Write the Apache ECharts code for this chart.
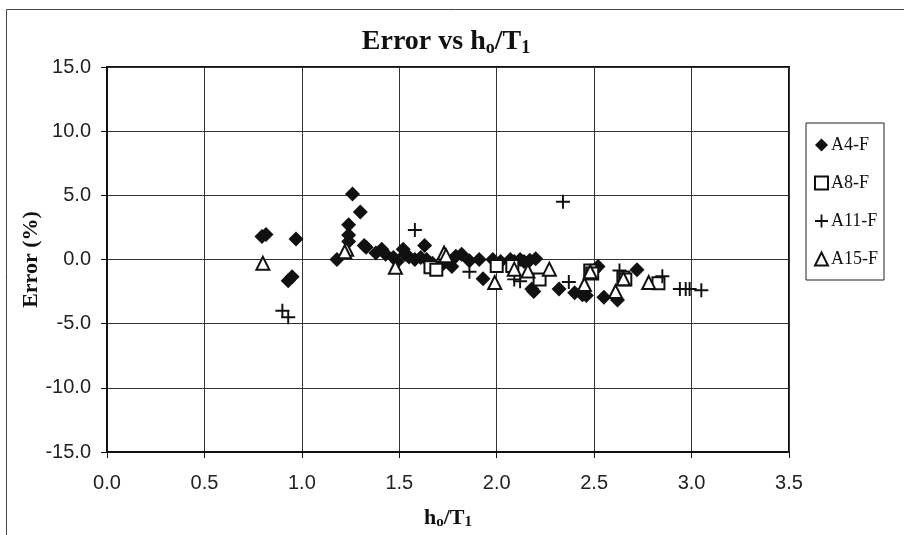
<!DOCTYPE html>
<html><head><meta charset="utf-8">
<script src="https://cdn.jsdelivr.net/npm/echarts@6/dist/echarts.min.js"></script>
<style>html,body{margin:0;padding:0;background:#fff}#c{width:904px;height:535px}</style>
</head><body><div id="c"></div>
<script>
const xTicks = [0.0, 0.5, 1.0, 1.5, 2.0, 2.5, 3.0, 3.5];
const yTicks = [-15, -10, -5, 0, 5, 10, 15];
const seriesNames = ['A4-F', 'A8-F', 'A11-F', 'A15-F'];
const a4 = [[0.795,1.8],[0.816,1.95],[0.97,1.6],[0.93,-1.65],[0.95,-1.35],[1.18,0.0],[1.26,5.1],[1.30,3.7],
  [1.24,2.7],[1.24,1.9],[1.24,1.4],[1.32,1.1],[1.33,0.95],[1.38,0.5],[1.41,0.8],[1.43,0.4],[1.47,0.15],
  [1.49,-0.15],[1.52,0.8],[1.53,0.4],[1.55,0.2],[1.58,0.0],[1.61,0.15],[1.63,1.1],[1.64,0.0],[1.67,-0.3],
  [1.72,-0.4],[1.77,-0.55],[1.79,0.25],[1.82,0.4],[1.86,-0.1],[1.91,0.0],[1.93,-1.5],[1.98,0.0],[2.02,-0.15],
  [2.07,0.0],[2.09,-0.15],[2.12,0.0],[2.14,-0.15],[2.17,-0.05],[2.20,0.05],[2.18,-2.3],[2.19,-2.5],
  [2.32,-2.3],[2.40,-2.6],[2.44,-2.75],[2.46,-2.8],[2.52,-0.55],[2.50,-0.85],[2.55,-2.95],[2.62,-3.15],[2.72,-0.8]];
const a8 = [[1.66,-0.6],[1.69,-0.8],[2.0,-0.5],[2.08,-0.5],[2.22,-1.55],[2.48,-0.85],[2.49,-1.1],
  [2.65,-1.4],[2.66,-1.55],[2.83,-1.85]];
const a11 = [[0.90,-4.0],[0.93,-4.5],[1.58,2.3],[1.86,-0.95],[2.09,-1.55],[2.12,-1.7],[2.34,4.5],
  [2.37,-1.75],[2.63,-0.85],[2.85,-1.3],[2.94,-2.3],[2.97,-2.3],[2.99,-2.3],[3.05,-2.4]];
const a15 = [[0.80,-0.3],[1.23,0.8],[1.22,0.6],[1.48,-0.6],[1.73,0.5],[1.74,0.3],[1.99,-1.8],[2.09,-0.75],
  [2.16,-0.9],[2.27,-0.75],[2.48,-0.95],[2.45,-1.95],[2.61,-2.5],[2.65,-1.5],[2.78,-1.8]];

const chart = echarts.init(document.getElementById('c'));
const serif = "'Liberation Serif','Times New Roman',serif";
const sans = "'Liberation Sans',Arial,sans-serif";
const plus = 'path://M4.3,0H5.7V4.3H10V5.7H5.7V10H4.3V5.7H0V4.3H4.3Z';
chart.setOption({
  animation: false,
  backgroundColor: '#fff',
  title: {
    text: 'Error vs h{s|o}/T{s|1}', left: 441, textAlign: 'center', top: 21,
    textStyle: { fontFamily: serif, fontWeight: 'bold', fontSize: 28, color: '#111',
      rich: { s: { fontFamily: serif, fontWeight: 'bold', fontSize: 18, padding: [13,0,0,0], color: '#111' } } }
  },
  graphic: [{ type: 'rect', shape: { x: 6.5, y: 9.5, width: 905, height: 540 }, style: { fill: 'none', stroke: '#444', lineWidth: 1 }, silent: true }],
  legend: {
    orient: 'vertical', left: 806, top: 123,
    padding: [13, 6, 12, 8], itemGap: 20, itemWidth: 13, itemHeight: 13,
    borderColor: '#222', borderWidth: 1,
    textStyle: { fontFamily: serif, fontSize: 18, color: '#111', padding: [0,0,0,-2] },
    data: seriesNames
  },
  grid: { left: 107, right: 115, top: 67, bottom: 75, show: true, borderColor: '#111', borderWidth: 2 },
  xAxis: {
    type: 'value', min: xTicks[0], max: xTicks[xTicks.length-1], interval: 0.5,
    name: 'h{s|o}/T{s|1}', nameLocation: 'middle', nameGap: 55,
    nameTextStyle: { fontFamily: serif, fontWeight: 'bold', fontSize: 22, color: '#111',
      rich: { s: { fontFamily: serif, fontWeight: 'bold', fontSize: 15, padding: [8,0,0,0], color: '#111' } } },
    axisLine: { show: true, onZero: false, lineStyle: { color: '#111', width: 2 } },
    axisTick: { show: true, length: 6, lineStyle: { color: '#111' } },
    axisLabel: { margin: 21, fontFamily: sans, fontSize: 20, color: '#222', formatter: v => v.toFixed(1) },
    splitLine: { show: true, lineStyle: { color: '#333', width: 1 } }
  },
  yAxis: {
    type: 'value', min: yTicks[0], max: yTicks[yTicks.length-1], interval: 5,
    name: 'Error (%)', nameLocation: 'middle', nameGap: 65, nameMoveOverlap: false,
    nameTextStyle: { fontFamily: serif, fontWeight: 'bold', fontSize: 22, color: '#111' },
    axisLine: { show: true, lineStyle: { color: '#111', width: 2 } },
    axisTick: { show: true, length: 6, lineStyle: { color: '#111' } },
    axisLabel: { margin: 16, fontFamily: sans, fontSize: 20, color: '#222', formatter: v => v.toFixed(1) },
    splitLine: { show: true, lineStyle: { color: '#333', width: 1 } }
  },
  series: [
    { name: seriesNames[0], type: 'scatter', data: a4, symbol: 'diamond', symbolSize: 15,
      itemStyle: { color: '#111', opacity: 1 } },
    { name: seriesNames[1], type: 'scatter', data: a8, symbol: 'rect', symbolSize: 12,
      itemStyle: { color: '#fff', borderColor: '#111', borderWidth: 2, opacity: 1 } },
    { name: seriesNames[2], type: 'scatter', data: a11, symbol: plus, symbolSize: 14,
      itemStyle: { color: '#111', opacity: 1 } },
    { name: seriesNames[3], type: 'scatter', data: a15, symbol: 'triangle', symbolSize: 13,
      itemStyle: { color: '#fff', borderColor: '#111', borderWidth: 2, opacity: 1 } }
  ]
});
</script></body></html>
